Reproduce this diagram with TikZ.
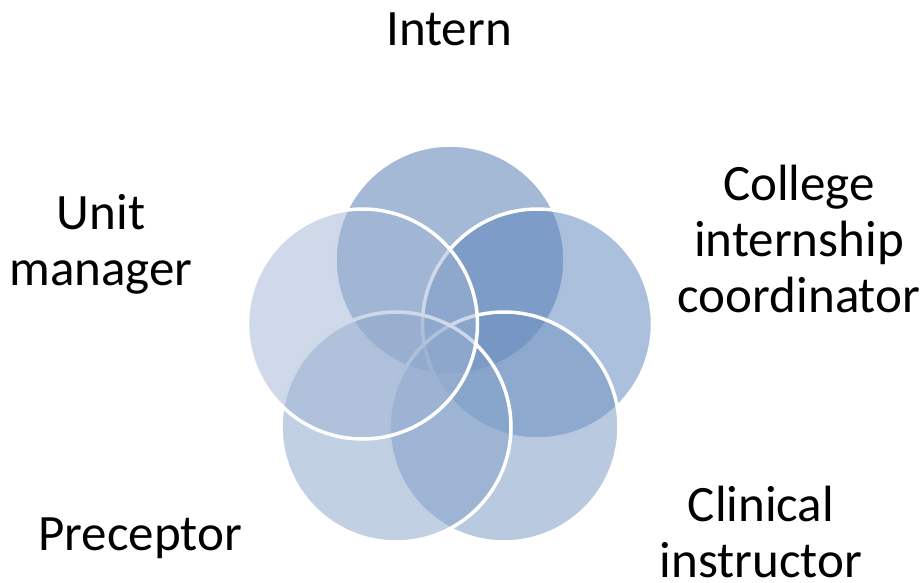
\documentclass[tikz,border=0pt]{standalone}
\usepackage{fontspec}
\setmainfont{Carlito}
\definecolor{cIntern}{RGB}{73,115,173}
\definecolor{cCollege}{RGB}{87,129,185}
\definecolor{cClinical}{RGB}{113,147,193}
\definecolor{cPreceptor}{RGB}{133,161,201}
\definecolor{cUnit}{RGB}{159,179,211}
\begin{document}
\begin{tikzpicture}[x=1pt,y=-1pt,
  venn/.style={circle, minimum size=230pt, inner sep=0pt, draw=white, line width=3.5pt, fill opacity=0.5, draw opacity=1},
  lbl/.style={align=center, font=\fontsize{51}{56}\selectfont, inner sep=0pt, text=black}]
\useasboundingbox (0,0) rectangle (923,582);
\node[venn, fill=cIntern] (intern) at (450,260) {};
\node[venn, fill=cCollege] (college) at (537.5,324) {};
\node[venn, fill=cClinical] (clinical) at (504,427) {};
\node[venn, fill=cPreceptor] (preceptor) at (396,427) {};
\node[venn, fill=cUnit] (unit) at (362.5,324) {};
\node[lbl, anchor=base] (tIntern) at (449,45) {Intern};
\node[lbl, anchor=base] (tCollege) at (799,312) {College\\internship\\coordinator};
\node[lbl, anchor=base] (tClinical) at (761,577) {Clinical\\instructor};
\node[lbl, anchor=base] (tPreceptor) at (140,550) {Preceptor};
\node[lbl, anchor=base] (tUnit) at (101,285) {Unit\\manager};
\end{tikzpicture}
\end{document}
